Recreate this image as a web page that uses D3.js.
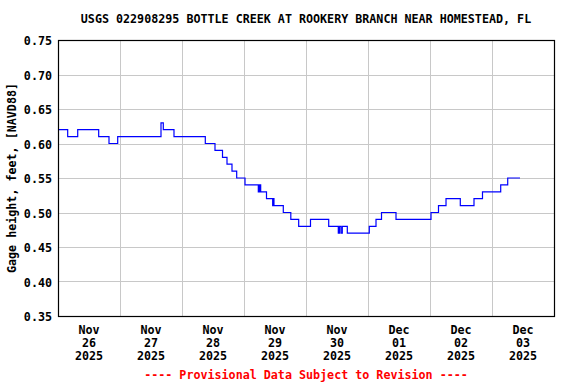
<!DOCTYPE html>
<html>
<head>
<meta charset="utf-8">
<script src="https://cdn.jsdelivr.net/npm/d3@7"></script>
<style>
  body { margin: 0; background: #fff; }
  svg { display: block; }
  text { font-family: "DejaVu Sans Mono", "Liberation Mono", monospace; font-weight: bold; }
</style>
</head>
<body>
<div id="chart"></div>
<script>
// hours after Nov 26 2025 00:00 where the reading changes, and the new reading (ft)
var stepHours = [0, 3.75, 7.63, 15.75, 19.74, 23.11, 39.87, 40.76, 44.9, 57.02,
    60.77, 63.68, 65.42, 67.35, 69.17, 72.39, 77.54, 78.0, 78.46, 80.71,
    83.1, 83.35, 83.6, 87.21, 90.12, 93.17, 97.74, 104.79, 108.5, 108.97,
    109.55, 110.05, 111.99, 120.5, 123.1, 125.23, 130.84, 144.39, 147.29, 150.2,
    155.73, 161.03, 164.32, 171.37, 174.08, 178.84];
var gageHeight = [0.62, 0.61, 0.62, 0.61, 0.60, 0.61, 0.63, 0.62, 0.61, 0.60,
    0.59, 0.58, 0.57, 0.56, 0.55, 0.54, 0.53, 0.54, 0.53, 0.52,
    0.51, 0.52, 0.51, 0.50, 0.49, 0.48, 0.49, 0.48, 0.47, 0.48,
    0.47, 0.48, 0.47, 0.48, 0.49, 0.50, 0.49, 0.50, 0.51, 0.52,
    0.51, 0.52, 0.53, 0.54, 0.55, 0.55];

var yTicks = [0.35, 0.40, 0.45, 0.50, 0.55, 0.60, 0.65, 0.70, 0.75];
var dayMonths = ["Nov", "Nov", "Nov", "Nov", "Nov", "Dec", "Dec", "Dec"];
var dayNums = ["26", "27", "28", "29", "30", "01", "02", "03"];
var dayYears = ["2025", "2025", "2025", "2025", "2025", "2025", "2025", "2025"];

var title = "USGS 022908295 BOTTLE CREEK AT ROOKERY BRANCH NEAR HOMESTEAD, FL";
var yLabel = "Gage height, feet, [NAVD88]";
var footnote = "---- Provisional Data Subject to Revision ----";

var W = 576, H = 384;
var plotLeft = 58, plotRight = 554, plotTop = 40, plotBottom = 316;

var start = new Date(2025, 10, 26);
var end = d3.timeDay.offset(start, 8);

var x = d3.scaleTime().domain([start, end]).range([plotLeft, plotRight]);
var y = d3.scaleLinear().domain([0.35, 0.75]).range([plotBottom, plotTop]);

var data = [];
for (var i = 0; i < stepHours.length; i++) {
    data.push({
        t: new Date(start.getTime() + stepHours[i] * 3600000),
        v: gageHeight[i]
    });
}

var svg = d3.select("#chart").append("svg")
    .attr("width", W)
    .attr("height", H);

svg.append("text")
    .attr("x", (plotLeft + plotRight) / 2)
    .attr("y", 23)
    .attr("text-anchor", "middle")
    .attr("font-size", "11.7px")
    .text(title);

// grid
var days = d3.timeDay.range(d3.timeDay.offset(start, 1), end);
svg.append("g").selectAll("line")
    .data(days)
    .enter()
    .append("line")
    .attr("x1", function(d) { return Math.round(x(d)) + 0.5; })
    .attr("x2", function(d) { return Math.round(x(d)) + 0.5; })
    .attr("y1", plotTop)
    .attr("y2", plotBottom)
    .attr("stroke", "#c8c8c8")
    .attr("stroke-width", 1);

svg.append("g").selectAll("line")
    .data(yTicks)
    .enter()
    .append("line")
    .attr("x1", plotLeft)
    .attr("x2", plotRight)
    .attr("y1", function(d) { return Math.round(y(d)) + 0.5; })
    .attr("y2", function(d) { return Math.round(y(d)) + 0.5; })
    .attr("stroke", "#c8c8c8")
    .attr("stroke-width", 1);

// the series
var line = d3.line()
    .x(function(d) { return x(d.t); })
    .y(function(d) { return y(d.v); })
    .curve(d3.curveStepAfter);

svg.append("path")
    .datum(data)
    .attr("d", line)
    .attr("fill", "none")
    .attr("stroke", "#0000ff")
    .attr("stroke-width", 1.2);

// frame
svg.append("rect")
    .attr("x", plotLeft + 0.5)
    .attr("y", plotTop + 0.5)
    .attr("width", plotRight - plotLeft)
    .attr("height", plotBottom - plotTop)
    .attr("fill", "none")
    .attr("stroke", "#000")
    .attr("stroke-width", 1.2);

// y tick labels
svg.append("g").selectAll("text")
    .data(yTicks)
    .enter()
    .append("text")
    .attr("x", 52)
    .attr("y", function(d) { return y(d) + 1; })
    .attr("dy", "0.35em")
    .attr("text-anchor", "end")
    .attr("font-size", "11.7px")
    .text(function(d) { return d3.format(".2f")(d); });

svg.append("text")
    .attr("transform", "translate(16," + ((plotTop + plotBottom) / 2) + ") rotate(-90)")
    .attr("text-anchor", "middle")
    .attr("font-size", "11.7px")
    .text(yLabel);

// x labels, one per day, at noon
var xl = svg.append("g").selectAll("text")
    .data(dayNums)
    .enter()
    .append("text")
    .attr("text-anchor", "middle")
    .attr("font-size", "11.7px")
    .attr("transform", function(d, i) {
        return "translate(" + x(d3.timeHour.offset(start, i * 24 + 12)) + ",0)";
    });
xl.append("tspan").attr("x", 0).attr("y", 334).text(function(d, i) { return dayMonths[i]; });
xl.append("tspan").attr("x", 0).attr("y", 347).text(function(d) { return d; });
xl.append("tspan").attr("x", 0).attr("y", 360).text(function(d, i) { return dayYears[i]; });

svg.append("text")
    .attr("x", (plotLeft + plotRight) / 2)
    .attr("y", 379)
    .attr("text-anchor", "middle")
    .attr("font-size", "11.7px")
    .attr("fill", "#ff0000")
    .text(footnote);
</script>
</body>
</html>
